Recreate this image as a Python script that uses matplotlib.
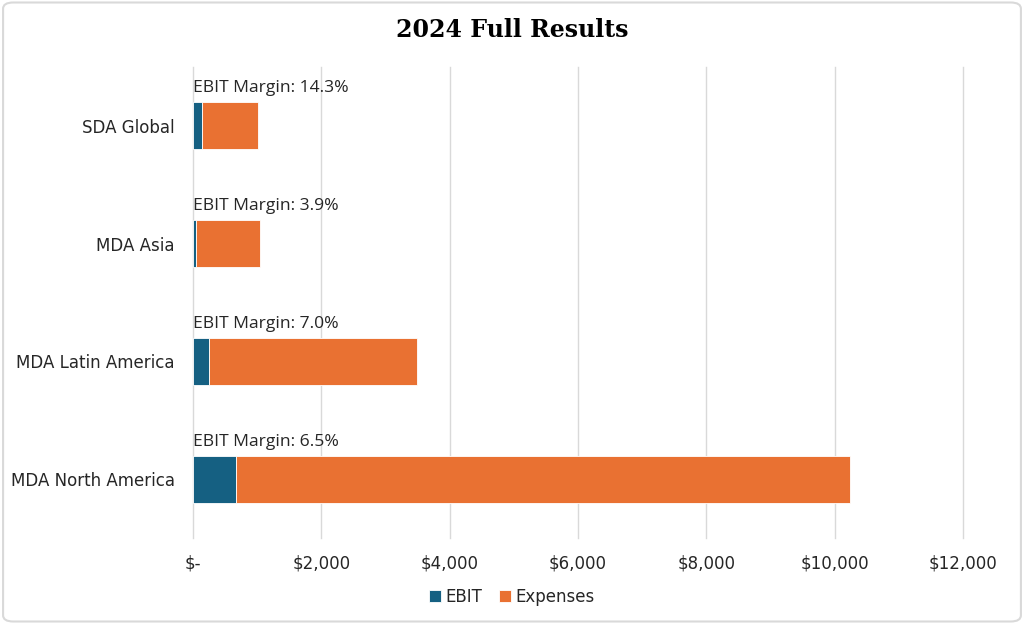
import matplotlib
matplotlib.use("Agg")
import matplotlib.pyplot as plt
from matplotlib.patches import FancyBboxPatch

categories = ["MDA North America", "MDA Latin America", "MDA Asia", "SDA Global"]
ebit = [665, 244, 41, 144]
expenses = [9567, 3246, 1007, 864]
margin_labels = ["EBIT Margin: 6.5%", "EBIT Margin: 7.0%", "EBIT Margin: 3.9%", "EBIT Margin: 14.3%"]
xticks = [0, 2000, 4000, 6000, 8000, 10000, 12000]
xticklabels = ["$-", "$2,000", "$4,000", "$6,000", "$8,000", "$10,000", "$12,000"]

c_ebit = "#156082"
c_exp = "#E97132"

fig = plt.figure(figsize=(10.24, 6.24), dpi=100)
ax = fig.add_axes([193/1024, 1-538/624, (963-193)/1024, (538-67)/624])

y = list(range(len(categories)))
h = 0.4
ax.barh(y, ebit, height=h, color=c_ebit, edgecolor="white", linewidth=0.6, label="EBIT", zorder=3)
ax.barh(y, expenses, left=ebit, height=h, color=c_exp, edgecolor="white", linewidth=0.6, label="Expenses", zorder=3)

for yi, lab in zip(y, margin_labels):
    ax.text(0, yi + h/2 + 0.05, lab, ha="left", va="bottom", fontsize=12.6,
            family="Open Sans", color="#262626", zorder=4)

ax.set_xlim(0, 12000)
ax.set_ylim(-0.5, 3.5)
ax.set_xticks(xticks)
ax.set_xticklabels(xticklabels)
ax.set_yticks(y)
ax.set_yticklabels(categories)
ax.tick_params(axis="both", length=0, labelsize=12, colors="#262626", labelfontfamily="DejaVu Sans")
ax.tick_params(axis="x", pad=12)
ax.tick_params(axis="y", pad=13)
ax.grid(axis="x", color="#D9D9D9", linewidth=1, zorder=0)
for gl in ax.get_xgridlines():
    gl.set_clip_on(False)
for s in ax.spines.values():
    s.set_visible(False)

fig.text(0.5, 0.952, "2024 Full Results", ha="center", va="center", fontsize=17,
         fontweight="bold", family="DejaVu Serif", color="#000000")

handles, labels = ax.get_legend_handles_labels()
leg = fig.legend(handles, labels, loc="center", bbox_to_anchor=(0.5, 1-597/624), ncol=2,
                 frameon=False, handlelength=0.7, handleheight=0.7,
                 handletextpad=0.3, columnspacing=1.0, prop={"family": "DejaVu Sans", "size": 12})
for t in leg.get_texts():
    t.set_color("#262626")

border = FancyBboxPatch((0.003, 0.004), 0.994, 0.992, boxstyle="round,pad=0,rounding_size=0.01",
                        transform=fig.transFigure, fill=False, edgecolor="#D9D9D9", linewidth=1.5)
fig.patches.append(border)

fig.savefig("out.png", dpi=100)
